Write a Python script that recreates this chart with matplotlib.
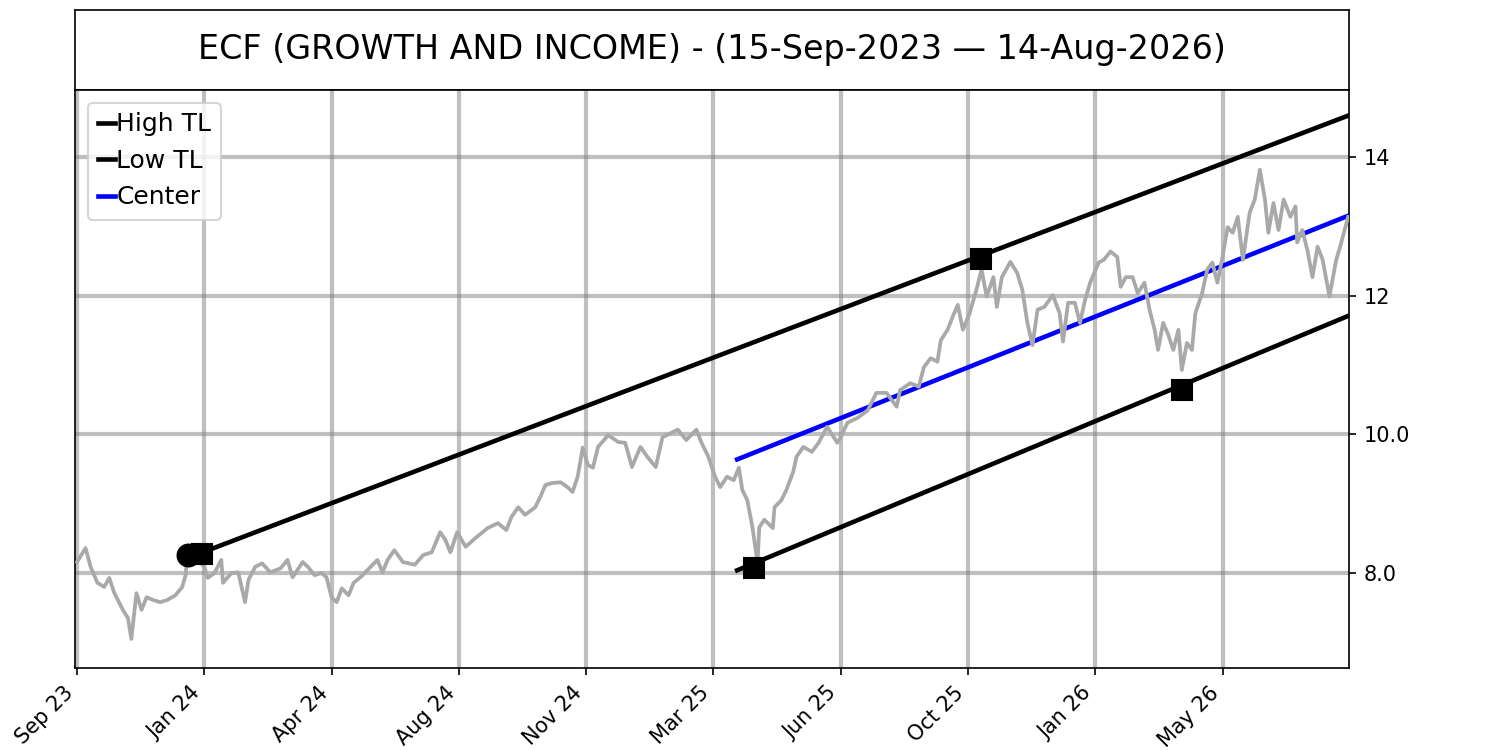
"""Trend channel chart for ECF with high/low trendlines and center line."""

import matplotlib.pyplot as plt
import numpy as np

TITLE = "ECF (GROWTH AND INCOME) - (15-Sep-2023 — 14-Aug-2026)"

# price series (bar index, close)
bars = [
    0, 5, 8, 12, 16, 19, 22, 27, 30, 32, 35, 38, 41, 45, 49, 53, 58, 62, 64, 65,
    70, 75, 77, 81, 85, 86, 91, 95, 99, 101, 105, 109, 114, 120, 124, 127, 133,
    136, 140, 144, 147, 150, 153, 156, 160, 163, 167, 171, 177, 180, 183, 187,
    192, 199, 204, 209, 214, 217, 220, 224, 229, 235, 242, 248, 253, 256, 260,
    264, 270, 273, 276, 280, 285, 289, 292, 295, 298, 301, 304, 307, 313, 319,
    323, 327, 332, 336, 341, 345, 354, 359, 365, 368, 372, 376, 379, 383, 387,
    390, 392, 395, 398, 401, 402, 405, 410, 411, 415, 418, 422, 424, 428, 433,
    437, 442, 448, 450, 454, 460, 466, 471, 477, 483, 485, 491, 496, 499, 503,
    507, 509, 513, 516, 519, 522, 526, 530, 533, 536, 540, 542, 545, 550, 554,
    557, 560, 563, 566, 570, 575, 579, 581, 584, 588, 591, 594, 597, 602, 605,
    609, 613, 615, 618, 622, 625, 629, 632, 635, 637, 640, 643, 646, 649, 651,
    654, 657, 659, 663, 666, 669, 672, 675, 678, 681, 684, 687, 691, 694, 697,
    700, 702, 705, 708, 711, 715, 718, 719, 722, 725, 728, 731, 734, 738, 742,
    745, 749,
]
close = [
    8.16, 8.36, 8.09, 7.86, 7.80, 7.93, 7.71, 7.47, 7.35, 7.05, 7.71, 7.47, 7.65,
    7.61, 7.58, 7.61, 7.68, 7.80, 7.97, 8.26, 8.22, 8.09, 7.93, 8.00, 8.19, 7.86,
    8.00, 8.01, 7.58, 7.90, 8.09, 8.14, 8.01, 8.07, 8.19, 7.94, 8.16, 8.09, 7.97,
    8.00, 7.94, 7.65, 7.58, 7.78, 7.68, 7.86, 7.94, 8.04, 8.19, 8.01, 8.19, 8.33,
    8.16, 8.12, 8.26, 8.30, 8.59, 8.48, 8.30, 8.59, 8.38, 8.51, 8.65, 8.72, 8.62,
    8.81, 8.95, 8.84, 8.95, 9.10, 9.27, 9.30, 9.31, 9.24, 9.17, 9.39, 9.81, 9.56,
    9.52, 9.82, 9.99, 9.89, 9.88, 9.53, 9.82, 9.68, 9.53, 9.96, 10.07, 9.92,
    10.07, 9.88, 9.68, 9.39, 9.24, 9.39, 9.34, 9.52, 9.20, 9.05, 8.66, 8.15,
    8.66, 8.77, 8.65, 8.95, 9.05, 9.20, 9.46, 9.68, 9.82, 9.75, 9.88, 10.11,
    9.88, 9.96, 10.17, 10.24, 10.35, 10.60, 10.60, 10.40, 10.64, 10.74, 10.69,
    10.97, 11.10, 11.05, 11.36, 11.51, 11.70, 11.87, 11.51, 11.75, 12.09, 12.38,
    11.99, 12.27, 11.84, 12.27, 12.49, 12.33, 12.09, 11.61, 11.29, 11.80, 11.84,
    12.01, 11.75, 11.34, 11.90, 11.90, 11.61, 11.94, 12.19, 12.48, 12.52, 12.64,
    12.56, 12.13, 12.27, 12.27, 12.04, 12.19, 11.80, 11.51, 11.22, 11.61, 11.44,
    11.22, 11.51, 10.93, 11.32, 11.22, 11.75, 12.04, 12.38, 12.48, 12.19, 12.56,
    12.99, 12.91, 13.14, 12.52, 13.20, 13.39, 13.82, 13.39, 12.91, 13.34, 12.95,
    13.39, 13.14, 13.29, 12.77, 12.95, 12.66, 12.27, 12.71, 12.52, 11.99, 12.52,
    12.77, 13.14,
]

# trendline end points (bar, price)
high_tl_bars = [73, 749]
high_tl_vals = [8.29, 14.60]
low_tl_bars = [389, 749]
low_tl_vals = [8.04, 11.71]

# pivot markers
pivot_bar = [65.4]
pivot_val = [8.26]
anchor_bars = [73.6, 532.4, 398.9, 651.4]
anchor_vals = [8.27, 12.53, 8.08, 10.64]

tick_bars = [0, 75, 150, 225, 300, 375, 450, 525, 600, 675]
tick_labels = ["Sep 23", "Jan 24", "Apr 24", "Aug 24", "Nov 24",
               "Mar 25", "Jun 25", "Oct 25", "Jan 26", "May 26"]
ytick_vals = [8.0, 10.0, 12.0, 14.0]
ytick_labels = ["8.0", "10.0", "12", "14"]


def main():
    fig = plt.figure(figsize=(10, 5), dpi=150)
    ax_title = fig.add_axes([0.05, 0.88, 0.8493, 0.1067])
    ax = fig.add_axes([0.05, 0.1093, 0.8493, 0.7707])

    ax_title.set_xticks([])
    ax_title.set_yticks([])
    ax_title.text(0.5, 0.5, TITLE, ha="center", va="center", fontsize=16,
                  transform=ax_title.transAxes)

    # center line = midpoint of the two trendlines over the low TL span
    center_bars = low_tl_bars
    high_at_center = np.interp(center_bars, high_tl_bars, high_tl_vals)
    center_vals = (high_at_center + np.array(low_tl_vals)) / 2

    ax.plot(high_tl_bars, high_tl_vals, color="black", lw=2.2, label="High TL")
    ax.plot(low_tl_bars, low_tl_vals, color="black", lw=2.2, label="Low TL")
    ax.plot(center_bars, center_vals, color="blue", lw=2.2, label="Center")

    ax.plot(bars, close, color="darkgray", lw=1.8, zorder=3)

    ax.plot(pivot_bar, pivot_val, "o", color="black", ms=10.5, zorder=4)
    ax.plot(anchor_bars, anchor_vals, "s", color="black", ms=10, zorder=4)

    ax.set_xlim(-1.2, 749.5)
    ax.set_ylim(6.63, 14.97)
    ax.set_xticks(tick_bars)
    ax.set_xticklabels(tick_labels, rotation=45, ha="right")
    ax.yaxis.tick_right()
    ax.set_yticks(ytick_vals)
    ax.set_yticklabels(ytick_labels)
    ax.grid(True, color="gray", alpha=0.5, lw=2)
    ax.set_axisbelow(True)

    ax.legend(loc="upper left", handlelength=0.7, handletextpad=0.05,
              fontsize=12)

    fig.savefig("out.png", dpi=150)
    plt.close(fig)


if __name__ == "__main__":
    main()
